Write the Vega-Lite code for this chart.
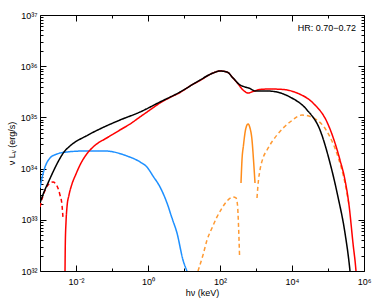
{
  "$schema": "https://vega.github.io/schema/vega-lite/v6.json",
  "width": 324,
  "height": 256,
  "autosize": "none",
  "padding": {"left": 40, "top": 15, "right": 10, "bottom": 28},
  "config": {
    "view": {"stroke": null},
    "font": "Liberation Sans",
    "axis": {
      "grid": false,
      "domainColor": "#000",
      "domainWidth": 1,
      "tickColor": "#000",
      "tickWidth": 1,
      "labelColor": "#000",
      "labelFont": "Liberation Sans",
      "labelFontSize": 9,
      "titleColor": "#000",
      "titleFont": "Liberation Sans",
      "titleFontSize": 9,
      "titleFontWeight": "normal",
      "labelFlush": false,
      "labelOverlap": false,
      "labelBound": false
    }
  },
  "data": {
    "values": [
      {"s": "disc", "e": 0.001, "l": 4.18e33},
      {"s": "disc", "e": 0.001136, "l": 6.55e33},
      {"s": "disc", "e": 0.001377, "l": 1.07e34},
      {"s": "disc", "e": 0.001896, "l": 1.61e34},
      {"s": "disc", "e": 0.00297, "l": 1.93e34},
      {"s": "disc", "e": 0.00562, "l": 2.11e34},
      {"s": "disc", "e": 0.01778, "l": 2.21e34},
      {"s": "disc", "e": 0.064, "l": 2.21e34},
      {"s": "disc", "e": 0.261, "l": 1.76e34},
      {"s": "disc", "e": 0.6, "l": 1.35e34},
      {"s": "disc", "e": 0.938, "l": 1.07e34},
      {"s": "disc", "e": 1.377, "l": 7.16e33},
      {"s": "disc", "e": 2.154, "l": 4.38e33},
      {"s": "disc", "e": 3.37, "l": 2.13e33},
      {"s": "disc", "e": 4.64, "l": 1.08e33},
      {"s": "disc", "e": 6.39, "l": 5.52e32},
      {"s": "disc", "e": 9.38, "l": 1.64e32},
      {"s": "disc", "e": 12.1, "l": 1e32},
      {"s": "lineLow", "e": 24.5, "l": 1e32},
      {"s": "lineLow", "e": 33.7, "l": 2.05e32},
      {"s": "lineLow", "e": 43.6, "l": 4.03e32},
      {"s": "lineLow", "e": 60.0, "l": 6.92e32},
      {"s": "lineLow", "e": 82.5, "l": 1.14e33},
      {"s": "lineLow", "e": 113.6, "l": 1.7e33},
      {"s": "lineLow", "e": 156.4, "l": 2.33e33},
      {"s": "lineLow", "e": 229.5, "l": 2.79e33},
      {"s": "lineLow", "e": 278, "l": 2.67e33},
      {"s": "lineLow", "e": 306, "l": 1.95e33},
      {"s": "lineLow", "e": 326.6, "l": 7.91e32},
      {"s": "lineLow", "e": 348.5, "l": 2.05e32},
      {"s": "line", "e": 383, "l": 5.24e33},
      {"s": "line", "e": 408, "l": 1.47e34},
      {"s": "line", "e": 449.8, "l": 2.89e34},
      {"s": "line", "e": 510.9, "l": 5.68e34},
      {"s": "line", "e": 599.5, "l": 7.43e34},
      {"s": "line", "e": 681, "l": 6.21e34},
      {"s": "line", "e": 774.4, "l": 3.62e34},
      {"s": "line", "e": 853, "l": 1.47e34},
      {"s": "line", "e": 937.6, "l": 5.24e33},
      {"s": "lineHigh", "e": 1066, "l": 2.67e33},
      {"s": "lineHigh", "e": 1172, "l": 5.98e33},
      {"s": "lineHigh", "e": 1291, "l": 9.39e33},
      {"s": "lineHigh", "e": 1564, "l": 1.61e34},
      {"s": "lineHigh", "e": 2023, "l": 2.31e34},
      {"s": "lineHigh", "e": 3831, "l": 4.53e34},
      {"s": "lineHigh", "e": 8799, "l": 8.13e34},
      {"s": "lineHigh", "e": 18970, "l": 1.11e35},
      {"s": "lineHigh", "e": 49430, "l": 8.89e34},
      {"s": "lineHigh", "e": 113700, "l": 4.14e34},
      {"s": "lineHigh", "e": 189600, "l": 1.69e34},
      {"s": "lineHigh", "e": 296500, "l": 5.24e33},
      {"s": "lineHigh", "e": 383000, "l": 1.95e33},
      {"s": "reflected", "e": 0.001, "l": 1.78e33},
      {"s": "reflected", "e": 0.001136, "l": 2.55e33},
      {"s": "reflected", "e": 0.00129, "l": 3.33e33},
      {"s": "reflected", "e": 0.00167, "l": 4.79e33},
      {"s": "reflected", "e": 0.0023, "l": 5.47e33},
      {"s": "reflected", "e": 0.00297, "l": 4.57e33},
      {"s": "reflected", "e": 0.00359, "l": 3.05e33},
      {"s": "reflected", "e": 0.00408, "l": 1.95e33},
      {"s": "reflected", "e": 0.00436, "l": 1.08e33},
      {"s": "model2", "e": 0.00485, "l": 4.25e31},
      {"s": "model2", "e": 0.00495, "l": 1e32},
      {"s": "model2", "e": 0.00504, "l": 3.22e32},
      {"s": "model2", "e": 0.00528, "l": 9.06e32},
      {"s": "model2", "e": 0.00562, "l": 1.78e33},
      {"s": "model2", "e": 0.00639, "l": 3.05e33},
      {"s": "model2", "e": 0.00774, "l": 5.0e33},
      {"s": "model2", "e": 0.01, "l": 7.85e33},
      {"s": "model2", "e": 0.01292, "l": 1.175e34},
      {"s": "model2", "e": 0.01896, "l": 1.845e34},
      {"s": "model2", "e": 0.02783, "l": 2.52e34},
      {"s": "model2", "e": 0.0409, "l": 3.16e34},
      {"s": "model2", "e": 0.064, "l": 3.79e34},
      {"s": "model2", "e": 0.1668, "l": 5.68e34},
      {"s": "model2", "e": 0.3162, "l": 7.43e34},
      {"s": "model2", "e": 0.5995, "l": 1.02e35},
      {"s": "model2", "e": 1.137, "l": 1.4e35},
      {"s": "model2", "e": 2.154, "l": 1.91e35},
      {"s": "model2", "e": 4.08, "l": 2.45e35},
      {"s": "model2", "e": 7.74, "l": 3.06e35},
      {"s": "model2", "e": 14.7, "l": 4.1e35},
      {"s": "model2", "e": 27.8, "l": 5.26e35},
      {"s": "model2", "e": 63.9, "l": 7.36e35},
      {"s": "model2", "e": 100, "l": 8.05e35},
      {"s": "model2", "e": 156.4, "l": 7.71e35},
      {"s": "model2", "e": 229.5, "l": 5.89e35},
      {"s": "model2", "e": 296.6, "l": 4.81e35},
      {"s": "model2", "e": 435.5, "l": 3.43e35},
      {"s": "model2", "e": 599.5, "l": 3.0e35},
      {"s": "model2", "e": 825.4, "l": 3.21e35},
      {"s": "model2", "e": 1291, "l": 3.51e35},
      {"s": "model2", "e": 2449, "l": 3.59e35},
      {"s": "model2", "e": 5623, "l": 3.51e35},
      {"s": "model2", "e": 13770, "l": 3.0e35},
      {"s": "model2", "e": 38300, "l": 1.91e35},
      {"s": "model2", "e": 93800, "l": 8.13e34},
      {"s": "model2", "e": 146800, "l": 3.62e34},
      {"s": "model2", "e": 215400, "l": 1.47e34},
      {"s": "model2", "e": 296500, "l": 5.98e33},
      {"s": "model2", "e": 383000, "l": 1.95e33},
      {"s": "model2", "e": 494000, "l": 3.52e32},
      {"s": "model2", "e": 599000, "l": 1e32},
      {"s": "model2", "e": 640000, "l": 5.3e31},
      {"s": "model1", "e": 0.001, "l": 2.13e33},
      {"s": "model1", "e": 0.00129, "l": 3.49e33},
      {"s": "model1", "e": 0.00167, "l": 5.24e33},
      {"s": "model1", "e": 0.0023, "l": 8.59e33},
      {"s": "model1", "e": 0.00316, "l": 1.35e34},
      {"s": "model1", "e": 0.00464, "l": 2.11e34},
      {"s": "model1", "e": 0.00681, "l": 2.76e34},
      {"s": "model1", "e": 0.02154, "l": 4.53e34},
      {"s": "model1", "e": 0.05995, "l": 6.49e34},
      {"s": "model1", "e": 0.1668, "l": 8.89e34},
      {"s": "model1", "e": 0.5995, "l": 1.274e35},
      {"s": "model1", "e": 2.154, "l": 2.0e35},
      {"s": "model1", "e": 7.74, "l": 3.13e35},
      {"s": "model1", "e": 27.8, "l": 5.37e35},
      {"s": "model1", "e": 63.9, "l": 7.36e35},
      {"s": "model1", "e": 100, "l": 8.05e35},
      {"s": "model1", "e": 156.4, "l": 7.71e35},
      {"s": "model1", "e": 229.5, "l": 5.89e35},
      {"s": "model1", "e": 359.4, "l": 4.3e35},
      {"s": "model1", "e": 494.5, "l": 3.93e35},
      {"s": "model1", "e": 681, "l": 3.67e35},
      {"s": "model1", "e": 937.6, "l": 3.28e35},
      {"s": "model1", "e": 2023, "l": 3.28e35},
      {"s": "model1", "e": 3831, "l": 3.13e35},
      {"s": "model1", "e": 8799, "l": 2.5e35},
      {"s": "model1", "e": 26100, "l": 1.4e35},
      {"s": "model1", "e": 59980, "l": 5.68e34},
      {"s": "model1", "e": 113700, "l": 1.29e34},
      {"s": "model1", "e": 189600, "l": 2.79e33},
      {"s": "model1", "e": 296500, "l": 5.52e32},
      {"s": "model1", "e": 408000, "l": 1e32},
      {"s": "model1", "e": 436000, "l": 6.1e31}
    ]
  },
  "layer": [
    {
      "mark": {"type": "line", "strokeWidth": 1.5, "interpolate": "monotone", "clip": true},
      "encoding": {
        "x": {
          "field": "e", "type": "quantitative",
          "scale": {"type": "log", "domain": [0.001, 1000000], "nice": false},
          "axis": {
            "orient": "bottom",
            "values": [0.01, 0.1, 1, 10, 100, 1000, 10000, 100000, 1000000],
            "labelExpr": "round(log(datum.value)/LN10) % 2 == 0 ? (datum.value < 0.5 ? '10⁻²' : '10' + ['⁰','¹','²','³','⁴','⁵','⁶'][round(log(datum.value)/LN10)]) : ''",
            "tickSize": {"condition": {"test": "round(log(datum.value)/LN10) % 2 == 0", "value": -6}, "value": -3},
            "labelPadding": 12,
            "title": "hν (keV)",
            "titlePadding": -1
          }
        },
        "y": {
          "field": "l", "type": "quantitative",
          "scale": {"type": "log", "domain": [1e32, 1e37], "nice": false},
          "axis": {
            "orient": "left",
            "values": [1e32, 2e32, 3e32, 4e32, 5e32, 6e32, 7e32, 8e32, 9e32, 1e33, 2e33, 3e33, 4e33, 5e33, 6e33, 7e33, 8e33, 9e33, 1e34, 2e34, 3e34, 4e34, 5e34, 6e34, 7e34, 8e34, 9e34, 1e35, 2e35, 3e35, 4e35, 5e35, 6e35, 7e35, 8e35, 9e35, 1e36, 2e36, 3e36, 4e36, 5e36, 6e36, 7e36, 8e36, 9e36, 1e37],
            "labelExpr": "abs(log(datum.value)/LN10 - round(log(datum.value)/LN10)) < 0.001 ? '10³' + ['⁰','¹','²','³','⁴','⁵','⁶','⁷','⁸','⁹'][round(log(datum.value)/LN10) - 30] : ''",
            "tickSize": {"condition": {"test": "abs(log(datum.value)/LN10 - round(log(datum.value)/LN10)) < 0.001", "value": -6}, "value": -3},
            "labelPadding": 9,
            "title": "ν Lᵥ (erg/s)",
            "titlePadding": 4
          }
        },
        "color": {
          "field": "s", "type": "nominal", "legend": null,
          "scale": {
            "domain": ["disc", "lineLow", "line", "lineHigh", "reflected", "model2", "model1"],
            "range": ["#1e90ff", "#ff9a33", "#ff8c1a", "#ff9a33", "#ff0000", "#ff0000", "#000000"]
          }
        },
        "strokeDash": {
          "field": "s", "type": "nominal", "legend": null,
          "scale": {
            "domain": ["disc", "lineLow", "line", "lineHigh", "reflected", "model2", "model1"],
            "range": [[1, 0], [4, 3], [1, 0], [4, 3], [4, 3], [1, 0], [1, 0]]
          }
        }
      }
    },
    {
      "mark": {"type": "point", "opacity": 0},
      "encoding": {
        "x": {
          "field": "e", "type": "quantitative",
          "scale": {"type": "log", "domain": [0.001, 1000000], "nice": false},
          "axis": {
            "orient": "top",
            "values": [0.01, 0.1, 1, 10, 100, 1000, 10000, 100000, 1000000],
            "labels": false,
            "title": null,
            "tickSize": {"condition": {"test": "round(log(datum.value)/LN10) % 2 == 0", "value": -6}, "value": -3}
          }
        },
        "y": {
          "field": "l", "type": "quantitative",
          "scale": {"type": "log", "domain": [1e32, 1e37], "nice": false},
          "axis": {
            "orient": "right",
            "values": [1e32, 2e32, 3e32, 4e32, 5e32, 6e32, 7e32, 8e32, 9e32, 1e33, 2e33, 3e33, 4e33, 5e33, 6e33, 7e33, 8e33, 9e33, 1e34, 2e34, 3e34, 4e34, 5e34, 6e34, 7e34, 8e34, 9e34, 1e35, 2e35, 3e35, 4e35, 5e35, 6e35, 7e35, 8e35, 9e35, 1e36, 2e36, 3e36, 4e36, 5e36, 6e36, 7e36, 8e36, 9e36, 1e37],
            "labels": false,
            "title": null,
            "tickSize": {"condition": {"test": "abs(log(datum.value)/LN10 - round(log(datum.value)/LN10)) < 0.001", "value": -6}, "value": -3}
          }
        }
      }
    },
    {
      "data": {"values": [{"e": 600000, "l": 5.57e36, "t": "HR: 0.70−0.72"}]},
      "mark": {"type": "text", "align": "right", "baseline": "middle", "fontSize": 9, "font": "Liberation Sans", "color": "#000"},
      "encoding": {
        "x": {"field": "e", "type": "quantitative", "scale": {"type": "log", "domain": [0.001, 1000000], "nice": false}, "axis": null},
        "y": {"field": "l", "type": "quantitative", "scale": {"type": "log", "domain": [1e32, 1e37], "nice": false}, "axis": null},
        "text": {"field": "t"}
      }
    }
  ],
  "resolve": {"axis": {"x": "independent", "y": "independent"}}
}
